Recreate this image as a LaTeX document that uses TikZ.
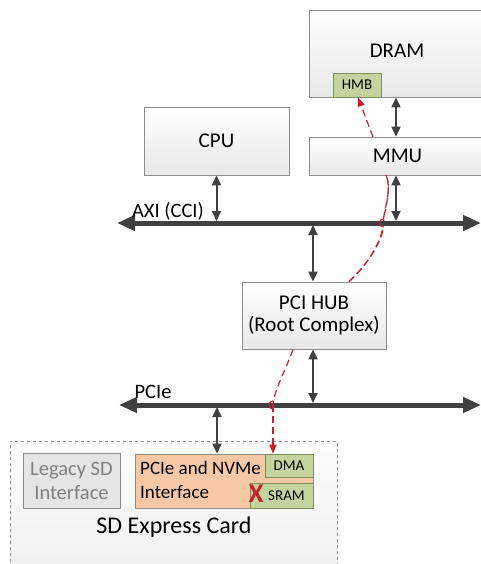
\documentclass[tikz,border=0pt]{standalone}
\usepackage{fontspec}
\setmainfont{Carlito}
\usetikzlibrary{arrows.meta}
\definecolor{dk}{HTML}{404040}
\definecolor{bd}{HTML}{8C8C8C}
\definecolor{grn}{HTML}{C5D49E}
\definecolor{grnb}{HTML}{7E8C5E}
\definecolor{peach}{HTML}{F7C8A6}
\definecolor{rd}{HTML}{C8202A}
\pgfdeclarelayer{background}
\pgfsetlayers{background,main}
\tikzset{
  box/.style={draw=bd, line width=0.8pt, top color=white, bottom color=black!9, inner sep=0pt},
  gbox/.style={draw=grnb, line width=0.8pt, fill=grn, inner sep=0pt, font=\fontsize{15}{17}\selectfont},
  bus/.style={draw=dk, line width=5pt, {Triangle[length=18pt,width=15pt]}-{Triangle[length=18pt,width=15pt]}},
  link/.style={draw=dk, line width=2pt, {Triangle[length=10pt,width=9pt]}-{Triangle[length=10pt,width=9pt]}},
  rlink/.style={draw=rd, line width=1.2pt, dash pattern=on 7pt off 4pt},
  lbl/.style={inner sep=0pt, font=\fontsize{21}{24}\selectfont},
}
\begin{document}
\begin{tikzpicture}[x=1pt,y=-1pt]
\clip (0,0) rectangle (481,564);
\begin{pgfonlayer}{background}
\fill[white] (0,0) rectangle (481,564);
\end{pgfonlayer}
% card
\node[draw=bd, dashed, line width=0.8pt, top color=black!1, bottom color=black!6, minimum width=327pt, minimum height=134pt] (card) at (173.5,508) {};
\node[lbl, font=\fontsize{24}{28}\selectfont] (cardt) at (174,527) {SD Express Card};
\node[draw=bd, line width=0.8pt, fill=black!10, minimum width=97pt, minimum height=55pt, align=center, text=black!50, font=\fontsize{20.5}{24}\selectfont] (legacy) at (71.5,480.5) {Legacy SD\\Interface};
\node[draw=bd, line width=0.8pt, fill=peach, minimum width=178pt, minimum height=54pt] (nvme) at (224,481) {};
\node[lbl, anchor=west, align=left, font=\fontsize{19}{24}\selectfont] (nvmet) at (140,480) {PCIe and NVMe\\Interface};
\node[gbox, minimum width=48pt, minimum height=23pt] (dma) at (289,465.5) {DMA};
\node[gbox, minimum width=63pt, minimum height=25pt] (sram) at (281.5,495.5) {\hspace*{10pt}SRAM};
\node[text=rd, inner sep=0pt, font=\bfseries\fontsize{27}{28}\selectfont] (xmark) at (256,494) {X};
% boxes
\node[box, minimum width=177pt, minimum height=87pt] (dram) at (397.5,53.5) {};
\node[lbl, font=\fontsize{21}{24}\selectfont] (dramt) at (397,51) {DRAM};
\node[gbox, minimum width=48pt, minimum height=24pt] (hmb) at (357,85) {HMB};
\node[box, minimum width=177pt, minimum height=38pt, font=\fontsize{21}{24}\selectfont] (mmu) at (397.5,156) {MMU};
\node[box, minimum width=145pt, minimum height=68pt, font=\fontsize{21}{24}\selectfont] (cpu) at (216.5,141) {CPU};
\node[box, minimum width=144pt, minimum height=67pt, align=center, font=\fontsize{21}{22}\selectfont] (hub) at (314,315.5) {PCI HUB\\(Root Complex)};
% buses
\coordinate (axiL) at (117,223);
\coordinate (axiR) at (481,223);
\coordinate (pcieL) at (119,405);
\coordinate (pcieR) at (481,405);
\draw[bus] (axiL) -- (axiR);
\draw[bus] (pcieL) -- (pcieR);
\node[lbl, font=\fontsize{20.5}{24}\selectfont] (axit) at (168,211) {AXI (CCI)};
\node[lbl, font=\fontsize{20.5}{24}\selectfont] (pciet) at (153,392) {PCIe};
% vertical links
\coordinate (a1) at (216.5,221);
\coordinate (a2) at (396,221);
\coordinate (a3) at (313,225);
\coordinate (p1) at (313,403);
\coordinate (p2) at (217,407);
\draw[link] (cpu.south -| a1) -- (a1);
\draw[link] (mmu.south -| a2) -- (a2);
\draw[link] (dram.south -| a2) -- (mmu.north -| a2);
\draw[link] (a3) -- (hub.north -| a3);
\draw[link] (hub.south -| p1) -- (p1);
\draw[link] (p2) -- (nvme.north -| p2);
% red dashed paths
\begin{pgfonlayer}{background}
\draw[rlink] (hub.north -| 349,0) .. controls (370,262) and (382,240) .. (383.5,223)
  .. controls (385,205) and (392,190) .. (386,175) -- (373,137);
\end{pgfonlayer}
\draw[rlink] (hub.north -| 349,0) .. controls (370,262) and (382,240) .. (383.5,227);
\draw[rlink] (383.5,219) .. controls (385,205) and (392,190) .. (386,175);
\draw[rlink, -{Triangle[length=9pt,width=7pt]}] (373,137) -- (hmb.south -| 358,0);
\draw[rlink] (hub.south -| 293,0) .. controls (285,372) and (274,390) .. (273,405);
\draw[rlink, -{Triangle[length=9pt,width=7pt]}] (273,405) -- (dma.north -| 273,0);
% hops
\draw[rd, line width=1.2pt] (383.5,227) arc[start angle=-90, end angle=-270, radius=4pt];
\draw[rd, line width=1.2pt] (273,409) arc[start angle=-90, end angle=-270, radius=4pt];
\end{tikzpicture}
\end{document}
